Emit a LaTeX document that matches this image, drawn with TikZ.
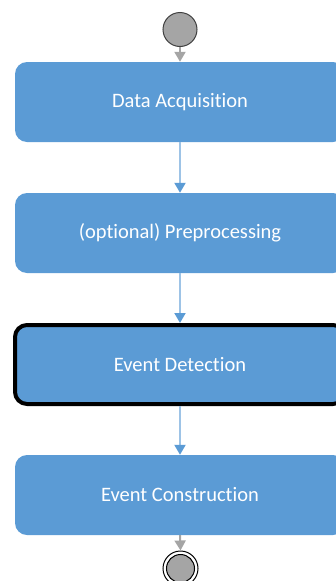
\documentclass[tikz,border=0pt]{standalone}
\usepackage{fontspec}
\setmainfont[Ligatures={NoCommon}]{Carlito}
\usetikzlibrary{arrows.meta}
\definecolor{boxblue}{HTML}{5B9BD5}
\definecolor{lineblue}{HTML}{9DC3E6}
\definecolor{flowgray}{HTML}{A5A5A5}
\definecolor{rimgray}{HTML}{404040}
\tikzset{
  stepbox/.style={rectangle, rounded corners=12pt, fill=boxblue, draw=none,
    minimum width=330pt, minimum height=80pt, text=white,
    font=\fontsize{20.5pt}{24pt}\selectfont, inner sep=0pt},
  boldbox/.style={stepbox, draw=black, line width=4pt, minimum height=79pt},
  blueflow/.style={draw=lineblue, line width=2pt, -{Triangle[width=11pt,length=10pt,fill=boxblue,color=boxblue]}},
  grayflow/.style={draw=flowgray, line width=2pt, -{Triangle[width=11pt,length=10pt,fill=flowgray,color=flowgray]}}
}
\begin{document}
\begin{tikzpicture}[x=1pt,y=-1pt]
\useasboundingbox (0,0) rectangle (336,581);
\clip (0,0) rectangle (336,581);
\node[circle, fill=flowgray, draw=rimgray, line width=1pt, minimum size=34pt, inner sep=0pt] (start) at (180,29.5) {};
\node[stepbox] (acq) at (180,102) {Data Acquisition};
\node[stepbox] (pre) at (180,233) {(optional) Preprocessing};
\node[boldbox] (det) at (180,364.5) {Event Detection};
\node[stepbox] (con) at (180,495) {Event Construction};
\node[circle, draw=black, line width=1pt, minimum size=35pt, inner sep=0pt] (endo) at (180.5,568.5) {};
\node[circle, fill=flowgray, draw=black, line width=1pt, minimum size=28pt, inner sep=0pt] (endi) at (180.5,568.5) {};
\draw[grayflow] (start.south) -- (acq.north);
\draw[blueflow] (acq.south) -- (pre.north);
\draw[blueflow] (pre.south) -- (det.north);
\draw[blueflow] (det.south) -- (con.north);
\draw[grayflow] (con.south) -- (endo.north);
\end{tikzpicture}
\end{document}
